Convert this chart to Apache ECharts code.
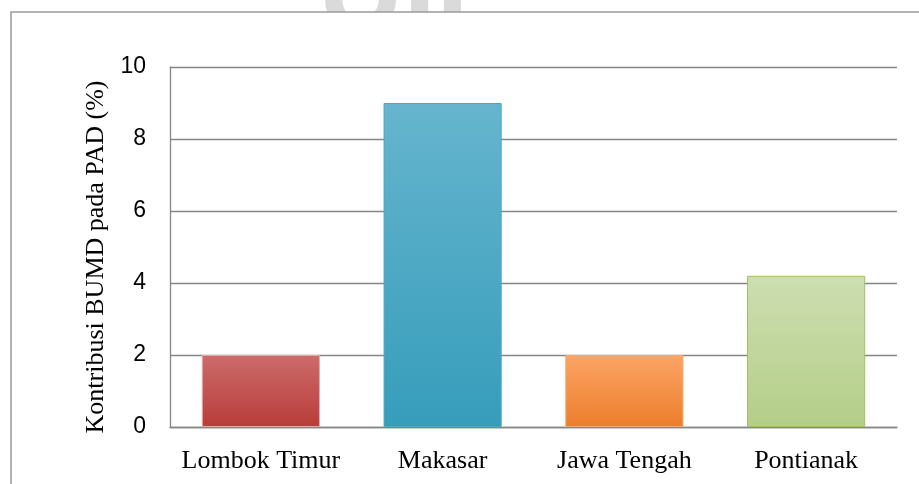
<!DOCTYPE html>
<html>
<head>
<meta charset="utf-8">
<script src="https://cdn.jsdelivr.net/npm/echarts@6/dist/echarts.min.js"></script>
<style>
html, body { margin: 0; padding: 0; background: #ffffff; }
#chart { width: 919px; height: 484px; }
</style>
</head>
<body>
<div id="chart"></div>
<script>
// data
var regions = ['Lombok Timur', 'Makasar', 'Jawa Tengah', 'Pontianak'];
var contribution = [2.0, 9.0, 2.0, 4.2];
var yTicks = [0, 2, 4, 6, 8, 10];

// bar fills: top colour, bottom colour, border
var barTop = ['#cc6c6b', '#66b5ce', '#fca465', '#cddeb1'];
var barBottom = ['#b83c3a', '#369dbb', '#ec7e2c', '#b4ce88'];
var barBorder = ['#e6a8a6', '#4aa8c4', '#f5a868', '#9fbf63'];

function grad(i)
{
    return new echarts.graphic.LinearGradient(0, 0, 0, 1, [
        {offset: 0, color: barTop[i]},
        {offset: 1, color: barBottom[i]}
    ]);
}

var chart = echarts.init(document.getElementById('chart'), null, {renderer: 'canvas'});

var barData = contribution.map(function (v, i) {
    return {value: v, itemStyle: {color: grad(i), borderColor: barBorder[i], borderWidth: 1}};
});

var option = {
    animation: false,
    backgroundColor: '#ffffff',
    graphic: [
        // faded watermark peeking above the frame
        {type: 'text', z: 0, left: 318, top: -62, style: {text: 'UII', font: 'bold 118px "Liberation Sans"', fill: '#dadada'}},
        {type: 'rect', z: 1, shape: {x: 11, y: 12, width: 930, height: 500}, style: {fill: '#ffffff', stroke: '#9a9a9a', lineWidth: 1.5}}
    ],
    grid: {left: 170, right: 22, top: 67, bottom: 57, containLabel: false},
    xAxis: {
        type: 'category',
        data: regions,
        axisLine: {show: true, lineStyle: {color: '#868686', width: 1.3}},
        axisTick: {show: false},
        axisLabel: {interval: 0, color: '#000000', fontFamily: '"Liberation Serif", "Times New Roman", serif', fontSize: 26, margin: 21},
        z: 3
    },
    yAxis: {
        type: 'value',
        min: yTicks[0],
        max: yTicks[yTicks.length - 1],
        interval: 2,
        name: 'Kontribusi BUMD pada PAD (%)',
        nameLocation: 'middle',
        nameRotate: 90,
        nameGap: 60,
        nameTextStyle: {color: '#000000', fontFamily: '"Liberation Serif", "Times New Roman", serif', fontSize: 26, padding: [0, 20, 0, 0]},
        axisLine: {show: true, lineStyle: {color: '#868686', width: 1.3}},
        axisTick: {show: false},
        axisLabel: {color: '#000000', fontFamily: '"Liberation Sans", Arial, sans-serif', fontSize: 23, margin: 24},
        splitLine: {show: true, lineStyle: {color: '#868686', width: 1.3}},
        z: 3
    },
    series: [{
        type: 'bar',
        data: barData,
        barWidth: '65%',
        z: 4
    }]
};

chart.setOption(option);
</script>
</body>
</html>
